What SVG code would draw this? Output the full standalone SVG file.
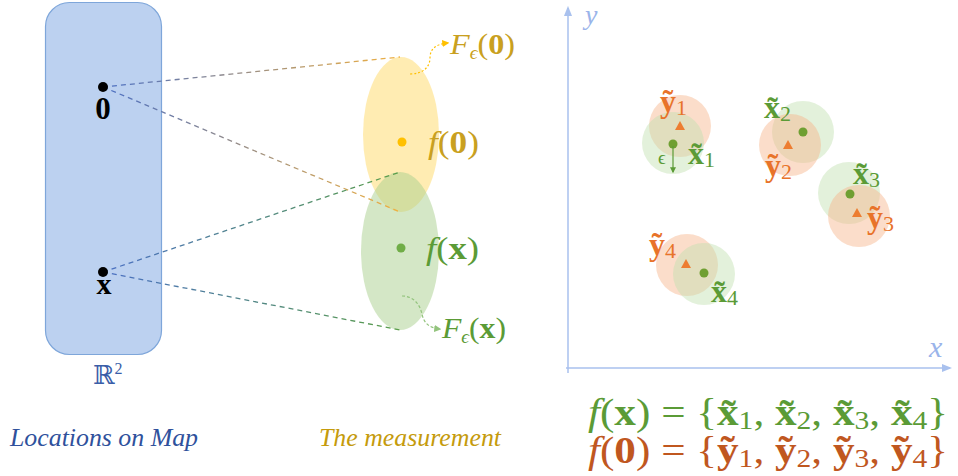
<svg xmlns="http://www.w3.org/2000/svg" width="958" height="476" viewBox="0 0 958 476">
<style>
.math{font-family:"Liberation Serif","DejaVu Serif",serif;}
.it{font-style:italic;}
.bd{font-weight:bold;}
.g{fill:#5b9b36;}
.o{fill:#e8732a;}
.od{fill:#c0571f;}
.y{fill:#c9a020;}
.dash{fill:none;stroke-width:1.3;stroke-dasharray:5,4;}
.circO{fill:#f7b48a;opacity:0.45;}
.circG{fill:#c2e0b0;opacity:0.45;}
.dot{fill:#6f9f32;}
.tri{fill:#ed7d31;}
.ax{stroke:#a9c1ee;stroke-width:1.5;fill:none;}
.sub{font-weight:normal;}
</style>
<defs>
<linearGradient id="g0a" gradientUnits="userSpaceOnUse" x1="103" y1="87" x2="400" y2="57"><stop offset="0" stop-color="#4a6fc4"/><stop offset="1" stop-color="#f0b040"/></linearGradient>
<linearGradient id="g0b" gradientUnits="userSpaceOnUse" x1="103" y1="87" x2="400" y2="212"><stop offset="0" stop-color="#4a6fc4"/><stop offset="1" stop-color="#f0b040"/></linearGradient>
<linearGradient id="gxa" gradientUnits="userSpaceOnUse" x1="103" y1="272" x2="400" y2="172"><stop offset="0" stop-color="#4a6fc4"/><stop offset="1" stop-color="#5a9e4a"/></linearGradient>
<linearGradient id="gxb" gradientUnits="userSpaceOnUse" x1="103" y1="272" x2="400" y2="330"><stop offset="0" stop-color="#4a6fc4"/><stop offset="1" stop-color="#5a9e4a"/></linearGradient>
<marker id="ahY" viewBox="0 0 10 10" refX="8" refY="5" markerWidth="6" markerHeight="6" orient="auto"><path d="M0,0 L10,5 L0,10 z" fill="#ffc000"/></marker>
<marker id="ahG" viewBox="0 0 10 10" refX="8" refY="5" markerWidth="6" markerHeight="6" orient="auto"><path d="M0,0 L10,5 L0,10 z" fill="#93c47d"/></marker>
<marker id="ahE" viewBox="0 0 10 10" refX="8" refY="5" markerWidth="5" markerHeight="5" orient="auto"><path d="M0,0 L10,5 L0,10 z" fill="#5b9b36"/></marker>
<marker id="ahA" viewBox="0 0 10 10" refX="8" refY="5" markerWidth="7" markerHeight="7" orient="auto"><path d="M0,1 L10,5 L0,9 z" fill="#a9c1ee"/></marker>
</defs>

<g id="map">
<rect x="45.5" y="2.5" width="116" height="352" rx="24" fill="#bcd1f0" stroke="#7ea6da" stroke-width="1.2"/>
<text x="93" y="384" class="math" font-size="26" fill="#3a5ea8">ℝ<tspan font-size="16" dy="-10">2</tspan></text>
</g>

<g id="measurement">
<ellipse cx="401" cy="134.5" rx="38" ry="77.5" fill="#ffd966" opacity="0.5"/>
<ellipse cx="400" cy="251" rx="39" ry="79" fill="#a9d08e" opacity="0.5"/>
</g>

<g id="connectors">
<line x1="103" y1="87" x2="400" y2="57" class="dash" stroke="url(#g0a)"/>
<line x1="103" y1="87" x2="400" y2="212" class="dash" stroke="url(#g0b)"/>
<line x1="103" y1="272" x2="400" y2="172" class="dash" stroke="url(#gxa)"/>
<line x1="103" y1="272" x2="400" y2="330" class="dash" stroke="url(#gxb)"/>
<path d="M410,74 C424,74 430,66 430,58 C430,48 437,44 448,43" fill="none" stroke="#ffc000" stroke-width="1.2" stroke-dasharray="2,2" marker-end="url(#ahY)"/>
<path d="M402,296 C414,296 420,305 422,314 C424,324 430,328 440,329" fill="none" stroke="#93c47d" stroke-width="1.2" stroke-dasharray="3,2" marker-end="url(#ahG)"/>
</g>

<g id="point0">
<circle cx="103" cy="87" r="5" fill="#000"/>
<text x="103" y="119" class="math bd" font-size="31" text-anchor="middle">0</text>
</g>
<g id="pointx">
<circle cx="103" cy="272" r="5" fill="#000"/>
<text x="104" y="294" class="math bd" font-size="30" text-anchor="middle">x</text>
</g>

<g id="f0">
<circle cx="402" cy="142" r="4.5" fill="#ffc000"/>
<text x="428" y="153" class="math y" font-size="31" textLength="51" lengthAdjust="spacingAndGlyphs"><tspan class="it">f</tspan>(<tspan class="bd">0</tspan>)</text>
<text x="450" y="54" class="math y" font-size="30" textLength="65" lengthAdjust="spacingAndGlyphs"><tspan class="it">F</tspan><tspan class="it" font-size="18" dy="5">ϵ</tspan><tspan dy="-5">(</tspan><tspan class="bd">0</tspan>)</text>
</g>
<g id="fx">
<circle cx="401" cy="248" r="4.5" fill="#70ad47"/>
<text x="426" y="259" class="math g" font-size="31" textLength="53" lengthAdjust="spacingAndGlyphs"><tspan class="it">f</tspan>(<tspan class="bd">x</tspan>)</text>
<text x="442" y="338" class="math g" font-size="30" textLength="64" lengthAdjust="spacingAndGlyphs"><tspan class="it">F</tspan><tspan class="it" font-size="18" dy="5">ϵ</tspan><tspan dy="-5">(</tspan><tspan class="bd">x</tspan>)</text>
</g>

<text x="10" y="446" class="math it" font-size="25" fill="#2f519c" textLength="188" lengthAdjust="spacingAndGlyphs">Locations on Map</text>
<text x="319" y="446" class="math it" font-size="25" fill="#c59b0c" textLength="182" lengthAdjust="spacingAndGlyphs">The measurement</text>

<g id="axes">
<line x1="568" y1="373" x2="568" y2="8" class="ax" marker-end="url(#ahA)"/>
<line x1="566" y1="368" x2="950" y2="368" class="ax" marker-end="url(#ahA)"/>
<text x="585" y="24" class="math it" font-size="28" fill="#9ab4ea">y</text>
<text x="929" y="357" class="math it" font-size="30" fill="#9ab4ea">x</text>
</g>

<g id="cluster1">
<circle cx="680" cy="126" r="31" class="circO"/>
<circle cx="673" cy="143" r="31" class="circG"/>
<path d="M680,121 L685,130 L675,130 z" class="tri"/>
<circle cx="673" cy="144" r="4.5" class="dot"/>
<line x1="673" y1="146" x2="673" y2="172" stroke="#5b9b36" stroke-width="1.2" marker-end="url(#ahE)"/>
<text x="658" y="164" class="math g" font-size="19">ϵ</text>
<text x="660" y="112" class="math bd o" font-size="32">ỹ<tspan class="sub" font-size="22" dy="3">1</tspan></text>
<text x="688" y="164" class="math bd g" font-size="32">x̃<tspan class="sub" font-size="22" dy="3">1</tspan></text>
</g>

<g id="cluster2">
<circle cx="803" cy="132" r="31" class="circG"/>
<circle cx="790" cy="145" r="31" class="circO"/>
<path d="M788,140 L793,149 L783,149 z" class="tri"/>
<circle cx="803" cy="132" r="4.5" class="dot"/>
<text x="764" y="118" class="math bd g" font-size="32">x̃<tspan class="sub" font-size="22" dy="3">2</tspan></text>
<text x="765" y="176" class="math bd o" font-size="32">ỹ<tspan class="sub" font-size="22" dy="3">2</tspan></text>
</g>

<g id="cluster3">
<circle cx="849" cy="193" r="31" class="circG"/>
<circle cx="859" cy="216" r="31" class="circO"/>
<path d="M857,208 L862,217 L852,217 z" class="tri"/>
<circle cx="850" cy="194" r="4.5" class="dot"/>
<text x="853" y="184" class="math bd g" font-size="32">x̃<tspan class="sub" font-size="22" dy="3">3</tspan></text>
<text x="867" y="228" class="math bd o" font-size="32">ỹ<tspan class="sub" font-size="22" dy="3">3</tspan></text>
</g>

<g id="cluster4">
<circle cx="687" cy="265" r="31" class="circO"/>
<circle cx="704" cy="274" r="31" class="circG"/>
<path d="M686,259 L691,268 L681,268 z" class="tri"/>
<circle cx="704" cy="273" r="4.5" class="dot"/>
<text x="649" y="255" class="math bd o" font-size="32">ỹ<tspan class="sub" font-size="22" dy="3">4</tspan></text>
<text x="711" y="302" class="math bd g" font-size="32">x̃<tspan class="sub" font-size="22" dy="3">4</tspan></text>
</g>

<g id="equations">
<text x="588" y="425" class="math g" font-size="38" textLength="360" lengthAdjust="spacingAndGlyphs"><tspan class="it">f</tspan>(<tspan class="bd">x</tspan>) = {<tspan class="bd">x̃</tspan><tspan font-size="26" dy="4">1</tspan><tspan dy="-4">, </tspan><tspan class="bd">x̃</tspan><tspan font-size="26" dy="4">2</tspan><tspan dy="-4">, </tspan><tspan class="bd">x̃</tspan><tspan font-size="26" dy="4">3</tspan><tspan dy="-4">, </tspan><tspan class="bd">x̃</tspan><tspan font-size="26" dy="4">4</tspan><tspan dy="-4">}</tspan></text>
<text x="588" y="463" class="math od" font-size="38" textLength="360" lengthAdjust="spacingAndGlyphs"><tspan class="it">f</tspan>(<tspan class="bd">0</tspan>) = {<tspan class="bd">ỹ</tspan><tspan font-size="26" dy="4">1</tspan><tspan dy="-4">, </tspan><tspan class="bd">ỹ</tspan><tspan font-size="26" dy="4">2</tspan><tspan dy="-4">, </tspan><tspan class="bd">ỹ</tspan><tspan font-size="26" dy="4">3</tspan><tspan dy="-4">, </tspan><tspan class="bd">ỹ</tspan><tspan font-size="26" dy="4">4</tspan><tspan dy="-4">}</tspan></text>
</g>
</svg>
